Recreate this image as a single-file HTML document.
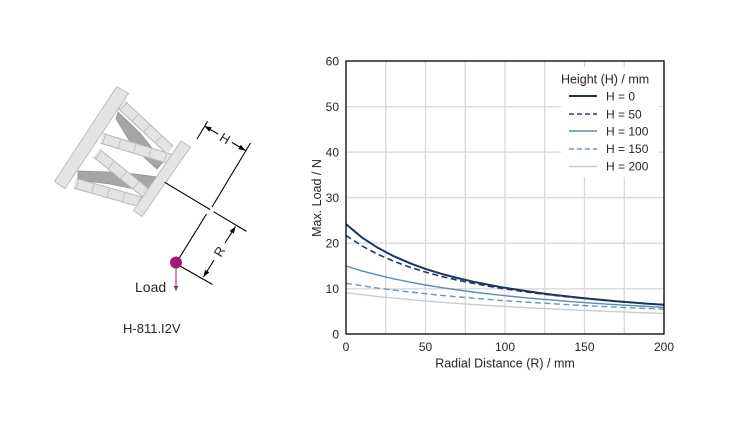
<!DOCTYPE html>
<html>
<head>
<meta charset="utf-8">
<style>
html,body{margin:0;padding:0;background:#fff;}
svg{display:block;}
text{font-family:"Liberation Sans",Arial,sans-serif;fill:#262626;}
</style>
</head>
<body>
<svg width="750" height="427" viewBox="0 0 750 427" xmlns="http://www.w3.org/2000/svg">
<defs>
<marker id="ah" markerWidth="8" markerHeight="6" refX="7" refY="3" orient="auto" markerUnits="userSpaceOnUse">
<path d="M0,0.5 L7,3 L0,5.5 z" fill="#000"/>
</marker>
<marker id="ahm" markerWidth="6" markerHeight="6" refX="5" refY="3" orient="auto" markerUnits="userSpaceOnUse">
<path d="M0,0.8 L5,3 L0,5.2 z" fill="#a3196f"/>
</marker>
</defs>
<rect width="750" height="427" fill="#fff"/>

<!-- Hexapod diagram -->
<!-- dark struts (tapered) -->
<polygon points="118,112 140,133 163,162 157,169 134,148 116,119" fill="#a6a6a6" stroke="#929292" stroke-width="0.8"/>
<polygon points="78,171 110,172 135,174 157,177 157,187 134,189 110,184 78,180" fill="#a6a6a6" stroke="#929292" stroke-width="0.8"/>
<!-- light struts -->
<g stroke="#b8b8b8" stroke-width="11">
  <line x1="121.7" y1="105" x2="170" y2="150"/>
  <line x1="101.7" y1="138.3" x2="170" y2="159"/>
  <line x1="96.7" y1="153.3" x2="152" y2="198"/>
  <line x1="75" y1="183.3" x2="141" y2="202"/>
</g>
<g stroke="#e3e3e3" stroke-width="9">
  <line x1="121.7" y1="105" x2="170" y2="150"/>
  <line x1="101.7" y1="138.3" x2="170" y2="159"/>
  <line x1="96.7" y1="153.3" x2="152" y2="198"/>
  <line x1="75" y1="183.3" x2="141" y2="202"/>
</g>
<g stroke="#c2c2c2" stroke-width="9" stroke-dasharray="1,15" stroke-dashoffset="-18">
  <line x1="121.7" y1="105" x2="170" y2="150"/>
  <line x1="101.7" y1="138.3" x2="170" y2="159"/>
  <line x1="96.7" y1="153.3" x2="152" y2="198"/>
  <line x1="75" y1="183.3" x2="141" y2="202"/>
</g>
<!-- plates -->
<polygon points="116.7,86.7 128.5,93.5 65,188.5 54.5,181.5" fill="#e4e4e4" stroke="#bdbdbd" stroke-width="1"/>
<polygon points="181,141 190.5,147 142,216.5 133.5,210.5" fill="#e4e4e4" stroke="#bdbdbd" stroke-width="1"/>

<!-- dimension lines -->
<g stroke="#000" stroke-width="1.1" fill="none">
  <line x1="164.7" y1="182.3" x2="210" y2="209.5"/>
  <line x1="213.5" y1="211.7" x2="246.5" y2="231.4"/>
  <line x1="250.5" y1="143" x2="212" y2="207"/>
  <line x1="206.5" y1="214" x2="178" y2="260"/>
  <line x1="180" y1="266" x2="212.5" y2="284.5"/>
  <line x1="197" y1="139" x2="207.5" y2="121.5"/>
  <!-- R dimension -->
  <line x1="225" y1="243" x2="235.5" y2="226.5" marker-end="url(#ah)"/>
  <line x1="214" y1="260" x2="203.5" y2="277" marker-end="url(#ah)"/>
  <!-- H dimension -->
  <line x1="218" y1="134" x2="204.5" y2="126" marker-end="url(#ah)"/>
  <line x1="232" y1="142.5" x2="245.5" y2="150.5" marker-end="url(#ah)"/>
</g>
<text x="0" y="0" font-size="13" text-anchor="middle" transform="translate(225,138.5) rotate(31) translate(0,4.5)">H</text>
<text x="0" y="0" font-size="13" text-anchor="middle" transform="translate(219.5,251.5) rotate(-59) translate(0,4.5)">R</text>

<!-- load -->
<line x1="176" y1="267" x2="176" y2="291" stroke="#a3196f" stroke-width="1" marker-end="url(#ahm)"/>
<circle cx="176" cy="262.5" r="6" fill="#a3196f"/>
<text x="135" y="292" font-size="14">Load</text>
<text x="123" y="333" font-size="13" fill="#333">H-811.I2V</text>

<!-- Chart grid -->
<g stroke="#d9d9d9" stroke-width="1.3">
  <line x1="385.75" y1="61" x2="385.75" y2="334"/>
  <line x1="425.5" y1="61" x2="425.5" y2="334"/>
  <line x1="465.25" y1="61" x2="465.25" y2="334"/>
  <line x1="505" y1="61" x2="505" y2="334"/>
  <line x1="544.75" y1="61" x2="544.75" y2="334"/>
  <line x1="584.5" y1="61" x2="584.5" y2="334"/>
  <line x1="624.25" y1="61" x2="624.25" y2="334"/>
  <line x1="346" y1="288.8" x2="664" y2="288.8"/>
  <line x1="346" y1="243.2" x2="664" y2="243.2"/>
  <line x1="346" y1="197.7" x2="664" y2="197.7"/>
  <line x1="346" y1="152.1" x2="664" y2="152.1"/>
  <line x1="346" y1="106.6" x2="664" y2="106.6"/>
</g>
<!-- legend bg -->
<rect x="561" y="67" width="98" height="110" fill="#fff"/>

<!-- series -->
<polyline fill="none" stroke="#c9cdd1" stroke-width="1.4" points="346,292.8 377.8,296.5 409.6,299.6 441.4,302.3 473.2,304.5 505,306.5 536.8,308.2 568.6,309.7 600.4,311.1 632.2,312.3 664,313.4"/>
<polyline fill="none" stroke="#6a94b8" stroke-width="1.4" stroke-dasharray="6,3.5" points="346,283.3 377.8,288.1 409.6,292 441.4,295.4 473.2,298.2 505,300.7 536.8,302.8 568.6,304.7 600.4,306.4 632.2,307.9 664,309.2"/>
<polyline fill="none" stroke="#5a8bb6" stroke-width="1.4" points="346,266 361.9,270.9 377.8,275.1 393.7,278.8 409.6,282.1 425.5,285 441.4,287.6 457.3,289.9 473.2,292 489.1,293.9 505,295.7 520.9,297.3 536.8,298.8 552.7,300.1 568.6,301.4 584.5,302.6 600.4,303.7 616.3,304.7 632.2,305.6 648.1,306.5 664,307.4"/>
<polyline fill="none" stroke="#1f3a6a" stroke-width="1.6" stroke-dasharray="6,3.5" points="346,235.5 361.9,245.9 377.8,254.3 393.7,261.2 409.6,267.1 425.5,272.1 441.4,276.4 457.3,280.1 473.2,283.4 489.1,286.3 505,288.9 520.9,291.2 536.8,293.3 552.7,295.2 568.6,297 584.5,298.5 600.4,300 616.3,301.4 632.2,302.6 648.1,303.7 664,304.8"/>
<polyline fill="none" stroke="#1c3560" stroke-width="2" points="346,224.1 361.9,237.4 377.8,247.8 393.7,256.2 409.6,263.1 425.5,268.9 441.4,273.8 457.3,278 473.2,281.7 489.1,284.9 505,287.8 520.9,290.3 536.8,292.6 552.7,294.7 568.6,296.5 584.5,298.2 600.4,299.8 616.3,301.2 632.2,302.5 648.1,303.7 664,304.8"/>

<!-- frame -->
<rect x="346" y="61" width="318" height="273" fill="none" stroke="#000" stroke-width="1.3"/>

<!-- y ticks -->
<g font-size="12" text-anchor="end">
  <text x="339" y="338.5">0</text>
  <text x="339" y="293">10</text>
  <text x="339" y="247.5">20</text>
  <text x="339" y="202">30</text>
  <text x="339" y="156.5">40</text>
  <text x="339" y="111">50</text>
  <text x="339" y="65.5">60</text>
</g>
<!-- x ticks -->
<g font-size="12" text-anchor="middle">
  <text x="346" y="351">0</text>
  <text x="425.5" y="351">50</text>
  <text x="505" y="351">100</text>
  <text x="584.5" y="351">150</text>
  <text x="664" y="351">200</text>
</g>
<text x="505" y="367.5" font-size="12.5" text-anchor="middle">Radial Distance (R) / mm</text>
<text x="0" y="0" font-size="12.5" text-anchor="middle" transform="translate(321,198) rotate(-90)">Max. Load / N</text>

<!-- legend -->
<text x="561" y="83.5" font-size="12.5">Height (H) / mm</text>
<line x1="569" y1="96" x2="597" y2="96" stroke="#1c3560" stroke-width="2"/>
<line x1="569" y1="114" x2="597" y2="114" stroke="#1f3a6a" stroke-width="1.6" stroke-dasharray="5,3"/>
<line x1="569" y1="131" x2="597" y2="131" stroke="#5a8bb6" stroke-width="1.4"/>
<line x1="569" y1="149" x2="597" y2="149" stroke="#6a94b8" stroke-width="1.4" stroke-dasharray="5,3"/>
<line x1="569" y1="166.5" x2="597" y2="166.5" stroke="#c9cdd1" stroke-width="1.4"/>
<g font-size="12">
  <text x="606" y="100.5">H = 0</text>
  <text x="606" y="118.5">H = 50</text>
  <text x="606" y="135.5">H = 100</text>
  <text x="606" y="153">H = 150</text>
  <text x="606" y="170.5">H = 200</text>
</g>
</svg>
</body>
</html>
